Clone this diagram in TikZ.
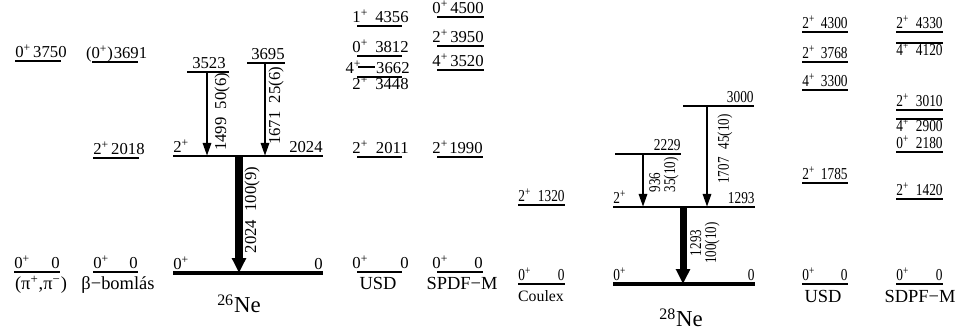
\documentclass[tikz,border=0pt]{standalone}
\usepackage{fontspec}
\setmainfont{Liberation Serif}
\newfontfamily\narrowfont[FakeStretch=0.8]{Liberation Serif}
\usepackage{tikz}
\usetikzlibrary{arrows.meta}

% one level: line plus spin (left) and energy (right)
\newcommand{\lvl}[7][]{%
  \begin{scope}[#1]
    \draw[levline] (#3,#5) coordinate (#2) -- (#4,#5);
    \node[spinlab] (#2s) at (#3,#5) {#6};
    \node[enlab] (#2e) at (#4,#5) {#7};
  \end{scope}
}

\begin{document}
\begin{tikzpicture}[x=0.02cm, y=-0.02cm,
    levline/.style={line width=0.85pt},
    spinlab/.style={anchor=base west, inner sep=0pt, yshift=1.8pt, font=\fontsize{9.5}{11}\selectfont},
    enlab/.style={anchor=base east, inner sep=0pt, yshift=1.8pt, font=\fontsize{9.5}{11}\selectfont},
    spx/.style={spinlab/.append style={xshift=#1}},
    enx/.style={enlab/.append style={xshift=#1}},
    lbelow/.style={spinlab/.append style={yshift=-9.1pt}, enlab/.append style={yshift=-9.1pt}},
    narrow/.style={spinlab/.append style={font=\narrowfont\fontsize{9.5}{11}\selectfont},
                   enlab/.append style={font=\narrowfont\fontsize{9.5}{11}\selectfont}},
    gnd/.style={levline/.append style={line width=1.8pt}},
    main/.style={levline/.append style={line width=1pt}},
    gam/.style={-{Triangle[length=7.4pt, width=4.6pt]}, line width=1.5pt},
    gamthick/.style={-{Triangle[length=8.4pt, width=7.6pt]}, line width=4pt},
    glab/.style={rotate=90, inner sep=0pt, font=\fontsize{9.5}{11}\selectfont},
    glabr/.style={glab, font=\narrowfont\fontsize{9.3}{8.5}\selectfont},
    title/.style={anchor=base, inner sep=0pt, font=\fontsize{10.5}{12}\selectfont}]
    \useasboundingbox (0,0) rectangle (955,333);

    % (pi+,pi-)
    \lvl[enx=3.4pt]{p3750}{15}{61}{61}{0\textsuperscript{+}}{3750}
    \lvl{p0}{14}{60}{272}{0\textsuperscript{+}}{0}
    \node[title] (pi) at (41,290) {(π\textsuperscript{+},π\textsuperscript{−})};

    % beta decay
    \lvl[spx=-3.6pt, enx=5.4pt]{b3691}{92}{138}{62}{(0\textsuperscript{+})}{3691}
    \lvl[enx=3.4pt]{b2018}{93}{139}{158}{2\textsuperscript{+}}{2018}
    \lvl{b0}{93}{138}{272}{0\textsuperscript{+}}{0}
    \node[title] (beta) at (118,290) {β−bomlás};

    % 26Ne levels
    \lvl[gnd]{n0}{173}{323}{273}{0\textsuperscript{+}}{0}
    \lvl[main]{n2024}{173}{323}{156}{2\textsuperscript{+}}{2024}
    \lvl[main, enx=-1.7pt]{n3523}{187}{229}{72}{}{3523}
    \lvl[main]{n3695}{247}{285}{63}{}{3695}

    % 26Ne gammas
    \coordinate (g1499t) at (207,72);
    \coordinate (g1499b) at (207,156);
    \coordinate (g1671t) at (265,63);
    \coordinate (g1671b) at (265,156);
    \coordinate (g2024t) at (239,156);
    \coordinate (g2024b) at (239,273);
    \draw[gam] (g1499t) -- (g1499b);
    \draw[gam] (g1671t) -- (g1671b);
    \draw[gamthick] (g2024t) -- (g2024b);
    \node[glab] (l1499) at (222,112) {1499\enspace 50(6)};
    \node[glab] (l1671) at (276,106) {1671\enspace 25(6)};
    \node[glab] (l2024) at (252,210) {2024\enspace 100(9)};
    \node[anchor=base, inner sep=0pt, font=\fontsize{13}{15}\selectfont] (ne26) at (239,313) {\textsuperscript{26}Ne};

    % USD for 26Ne
    \begin{scope}[spx=-2.8pt, enx=4pt]
        \lvl{u4356}{357}{402}{26}{1\textsuperscript{+}}{4356}
        \lvl{u3812}{357}{402}{56}{0\textsuperscript{+}}{3812}
        \lvl[spx=-4.5pt, enx=15.9pt, spinlab/.append style={yshift=-5.7pt}, enlab/.append style={yshift=-5.7pt}]{u3662}{358}{375}{67}{4\textsuperscript{+}}{3662}
        \lvl[lbelow]{u3448}{357}{402}{77}{2\textsuperscript{+}}{3448}
        \lvl{u2011}{357}{402}{157}{2\textsuperscript{+}}{2011}
        \lvl{u0}{357}{402}{272}{0\textsuperscript{+}}{0}
    \end{scope}
    \node[title] (usd26) at (378,290) {USD};

    % SPDF-M for 26Ne
    \begin{scope}[spx=-2.8pt]
        \lvl{s4500}{437}{484}{17}{0\textsuperscript{+}}{4500}
        \lvl{s3950}{437}{484}{46}{2\textsuperscript{+}}{3950}
        \lvl{s3520}{437}{484}{70}{4\textsuperscript{+}}{3520}
        \lvl{s1990}{437}{483}{157}{2\textsuperscript{+}}{1990}
        \lvl{s0}{437}{483}{272}{0\textsuperscript{+}}{0}
    \end{scope}
    \node[title] (spdf26) at (462,290) {SPDF−M};

    \begin{scope}[narrow]
    % Coulex
    \lvl{c1320}{518}{565}{205}{2\textsuperscript{+}}{1320}
    \lvl{c0}{518}{565}{284}{0\textsuperscript{+}}{0}
    \node[title, font=\fontsize{9}{11}\selectfont] (coulex) at (541,302) {Coulex};

    % 28Ne levels
    \lvl[gnd]{m0}{613}{755}{284}{0\textsuperscript{+}}{0}
    \lvl[main]{m1293}{613}{755}{207}{2\textsuperscript{+}}{1293}
    \lvl[main]{m2229}{615}{681}{154}{}{2229}
    \lvl[main]{m3000}{683}{754}{106}{}{3000}

    % 28Ne gammas
    \coordinate (g936t) at (643,154);
    \coordinate (g936b) at (643,207);
    \coordinate (g1707t) at (707,106);
    \coordinate (g1707b) at (707,207);
    \coordinate (g1293t) at (683,207);
    \coordinate (g1293b) at (683,284);
    \draw[gam] (g936t) -- (g936b);
    \draw[gam] (g1707t) -- (g1707b);
    \draw[gamthick] (g1293t) -- (g1293b);
    \node[glabr, align=left] (l936) at (664,175) {936\\35(10)};
    \node[glabr] (l1707) at (725,149) {1707\enspace 45(10)};
    \node[glabr, align=center] (l1293) at (705,243) {1293\\100(10)};
    \node[anchor=base, inner sep=0pt, font=\fontsize{13}{15}\selectfont] (ne28) at (681,327) {\textsuperscript{28}Ne};

    % USD for 28Ne
    \lvl{v4300}{802}{848}{32}{2\textsuperscript{+}}{4300}
    \lvl{v3768}{802}{848}{62}{2\textsuperscript{+}}{3768}
    \lvl{v3300}{802}{848}{90}{4\textsuperscript{+}}{3300}
    \lvl{v1785}{802}{848}{183}{2\textsuperscript{+}}{1785}
    \lvl{v0}{802}{848}{284}{0\textsuperscript{+}}{0}
    \node[title] (usd28) at (823,303) {USD};

    % SDPF-M for 28Ne
    \lvl{d4330}{896}{943}{32}{2\textsuperscript{+}}{4330}
    \lvl[lbelow]{d4120}{896}{943}{43}{4\textsuperscript{+}}{4120}
    \lvl{d3010}{896}{943}{110}{2\textsuperscript{+}}{3010}
    \lvl[lbelow]{d2900}{896}{943}{119}{4\textsuperscript{+}}{2900}
    \lvl{d2180}{896}{943}{152}{0\textsuperscript{+}}{2180}
    \lvl{d1420}{896}{943}{199}{2\textsuperscript{+}}{1420}
    \lvl{d0}{896}{943}{284}{0\textsuperscript{+}}{0}
    \node[title] (sdpf28) at (920,303) {SDPF−M};
    \end{scope}
\end{tikzpicture}
\end{document}
